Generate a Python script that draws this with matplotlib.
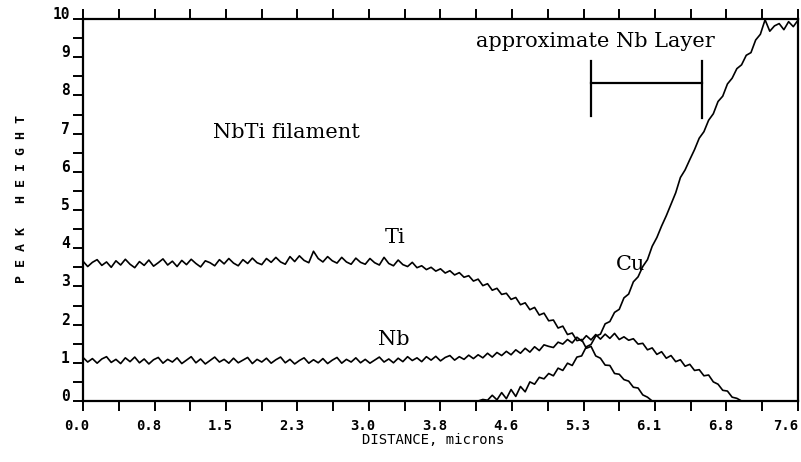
import numpy as np
import matplotlib
matplotlib.use("Agg")
import matplotlib.pyplot as plt
from matplotlib.transforms import ScaledTranslation

# ---------------- data ----------------
step = 0.05

ti_start = 0.0
ti_values = [
    3.66, 3.52, 3.63, 3.70, 3.55, 3.64, 3.50, 3.67, 3.56, 3.71,
    3.58, 3.49, 3.65, 3.55, 3.69, 3.53, 3.62, 3.72, 3.56, 3.66,
    3.52, 3.68, 3.57, 3.71, 3.60, 3.51, 3.67, 3.62, 3.54, 3.70,
    3.59, 3.73, 3.61, 3.54, 3.70, 3.60, 3.74, 3.62, 3.57, 3.73,
    3.63, 3.76, 3.64, 3.58, 3.78, 3.65, 3.80, 3.68, 3.62, 3.92,
    3.73, 3.64, 3.78, 3.67, 3.61, 3.76, 3.64, 3.58, 3.74, 3.63,
    3.58, 3.73, 3.62, 3.56, 3.76, 3.60, 3.54, 3.69, 3.57, 3.52,
    3.63, 3.49, 3.54, 3.44, 3.50, 3.40, 3.46, 3.35, 3.41, 3.30,
    3.36, 3.24, 3.28, 3.14, 3.19, 3.02, 3.07, 2.90, 2.95, 2.79,
    2.82, 2.66, 2.71, 2.52, 2.57, 2.39, 2.45, 2.25, 2.30, 2.10,
    2.12, 1.91, 1.96, 1.74, 1.78, 1.58, 1.61, 1.38, 1.43, 1.18,
    1.12, 0.94, 0.93, 0.72, 0.70, 0.56, 0.52, 0.36, 0.34, 0.16,
    0.10, 0.00,
]

nb_start = 0.0
nb_values = [
    1.14, 1.02, 1.11, 0.99, 1.10, 1.16, 1.01, 1.09, 0.98, 1.13,
    1.03, 1.15, 1.00, 1.10, 0.97, 1.08, 1.14, 0.99, 1.09, 1.02,
    1.13, 0.98, 1.07, 1.16, 1.00, 1.10, 0.97, 1.06, 1.15, 1.02,
    1.09, 0.99, 1.12, 1.00, 1.07, 1.14, 0.98, 1.09, 1.02, 1.12,
    0.99, 1.08, 1.15, 1.00, 1.09, 0.97, 1.06, 1.13, 0.99, 1.08,
    1.00, 1.11, 0.98, 1.07, 1.14, 0.99, 1.09, 1.02, 1.13, 1.00,
    1.09, 0.99, 1.07, 1.15, 1.02, 1.10, 1.00, 1.12, 1.03, 1.16,
    1.06, 1.13, 1.03, 1.16, 1.07, 1.17, 1.05, 1.14, 1.19, 1.07,
    1.16, 1.09, 1.20, 1.11, 1.21, 1.13, 1.25, 1.15, 1.27, 1.19,
    1.30, 1.21, 1.34, 1.25, 1.38, 1.28, 1.42, 1.32, 1.47, 1.43,
    1.40, 1.54, 1.49, 1.61, 1.52, 1.67, 1.57, 1.71, 1.60, 1.74,
    1.62, 1.75, 1.64, 1.77, 1.61, 1.68, 1.59, 1.63, 1.49, 1.51,
    1.34, 1.39, 1.22, 1.29, 1.12, 1.19, 1.03, 1.08, 0.91, 0.96,
    0.80, 0.82, 0.66, 0.68, 0.50, 0.44, 0.28, 0.26, 0.10, 0.07,
    0.00,
]

cu_start = 4.20
cu_values = [
    0.00, 0.04, 0.02, 0.15, 0.03, 0.22, 0.06, 0.30, 0.12, 0.38,
    0.24, 0.50, 0.44, 0.62, 0.58, 0.72, 0.66, 0.86, 0.80, 0.99,
    0.93, 1.15, 1.18, 1.42, 1.48, 1.70, 1.75, 2.02, 2.08, 2.32,
    2.40, 2.70, 2.80, 3.12, 3.25, 3.52, 3.70, 4.05, 4.28, 4.58,
    4.85, 5.15, 5.45, 5.85, 6.05, 6.32, 6.58, 6.88, 7.05, 7.35,
    7.52, 7.84, 7.98, 8.30, 8.45, 8.70, 8.80, 9.05, 9.12, 9.45,
    9.60, 9.98, 9.68, 9.82, 9.88, 9.72, 9.93, 9.80, 9.97,
]

x_tick_values = [0.0, 0.76, 1.52, 2.28, 3.04, 3.80, 4.56, 5.32, 6.08, 6.84, 7.60]
x_tick_labels = ["0.0", "0.8", "1.5", "2.3", "3.0", "3.8", "4.6", "5.3", "6.1", "6.8", "7.6"]
y_tick_values = list(range(0, 11))
y_tick_labels = [str(v) for v in y_tick_values]

layer_start, layer_end = 5.40, 6.58

# ---------------- figure ----------------
W, H, DPI = 801, 462, 100
fig = plt.figure(figsize=(W / DPI, H / DPI), dpi=DPI)
ax = fig.add_axes([83 / W, (H - 401) / H, (798 - 83) / W, (401 - 19) / H])


def xs(start, vals):
    return start + step * np.arange(len(vals))


lw = 1.2
ax.plot(xs(ti_start, ti_values), ti_values, color="black", lw=lw)
ax.plot(xs(nb_start, nb_values), nb_values, color="black", lw=lw)
ax.plot(xs(cu_start, cu_values), cu_values, color="black", lw=lw)

ax.set_xlim(0, 7.6)
ax.set_ylim(0, 10)

for s in ax.spines.values():
    s.set_linewidth(1.6)

mono = "DejaVu Sans Mono"
serif = "DejaVu Serif"

ax.set_xticks(x_tick_values)
ax.set_xticklabels(x_tick_labels, fontfamily=mono, fontsize=10, fontweight="bold")
ax.set_xticks([v + 0.38 for v in x_tick_values[:-1]], minor=True)
ax.set_yticks(y_tick_values)
ax.set_yticklabels(y_tick_labels, fontfamily=mono, fontsize=10.5, fontweight="bold")
ax.set_yticks([v + 0.5 for v in y_tick_values[:-1]], minor=True)

ax.tick_params(axis="x", which="both", direction="out", length=7.5, width=1.4,
               top=True, bottom=True, pad=5.5)
ax.tick_params(axis="y", which="both", direction="out", length=7.5, width=1.4,
               left=True, right=False, pad=2)

xlabs = ax.get_xticklabels()
for i, lab in enumerate(xlabs):
    dx = -12 if i == len(xlabs) - 1 else -6
    lab.set_transform(lab.get_transform() + ScaledTranslation(dx / DPI, 0, fig.dpi_scale_trans))
for lab in ax.get_yticklabels():
    lab.set_transform(lab.get_transform() + ScaledTranslation(0, 6 / DPI, fig.dpi_scale_trans))

fig.text(433 / W, 1 - 440 / H, "DISTANCE, microns", fontfamily=mono, fontsize=10,
         ha="center", va="center")
fig.text(22 / W, 1 - 199 / H, "P E A K   H E I G H T", fontfamily=mono, fontsize=9.5,
         rotation=90, ha="center", va="center", fontweight="bold")

# annotations
ax.text(2.16, 7.03, "NbTi filament", fontfamily=serif, fontsize=15, ha="center", va="center")
ax.text(3.32, 4.28, "Ti", fontfamily=serif, fontsize=15, ha="center", va="center")
ax.text(3.30, 1.60, "Nb", fontfamily=serif, fontsize=15, ha="center", va="center")
ax.text(5.82, 3.58, "Cu", fontfamily=serif, fontsize=15, ha="center", va="center")
ax.text(5.45, 9.42, "approximate Nb Layer", fontfamily=serif,
        fontsize=15, ha="center", va="center")

# bracket marking the approximate Nb layer
ax.plot([layer_start, layer_start], [7.45, 8.9], color="black", lw=1.6)
ax.plot([layer_end, layer_end], [7.4, 8.9], color="black", lw=1.6)
ax.plot([layer_start, layer_end], [8.32, 8.32], color="black", lw=1.6)

fig.savefig("out.png", dpi=DPI)
